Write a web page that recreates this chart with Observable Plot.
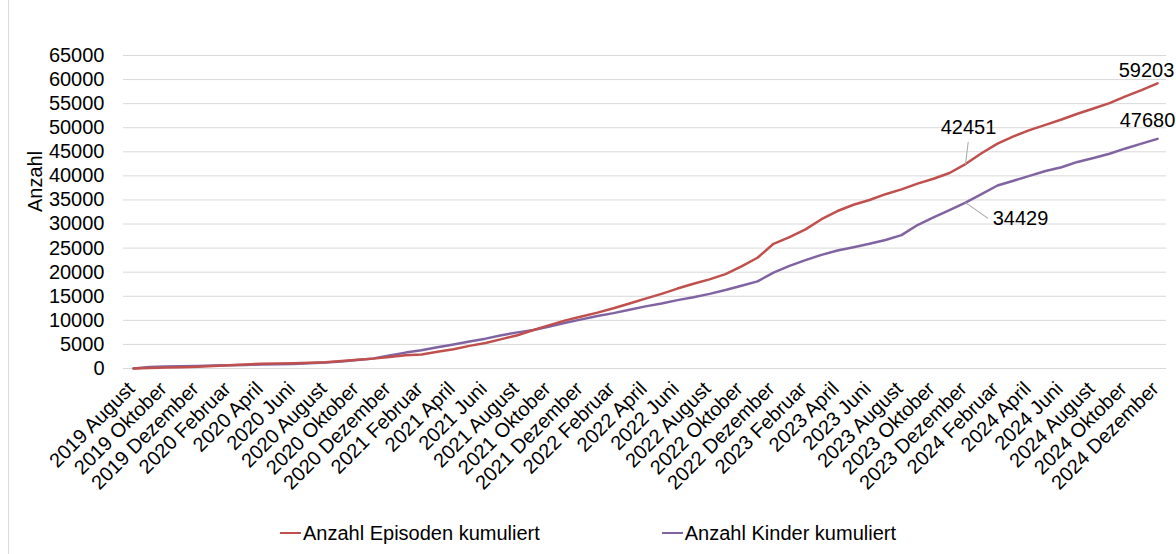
<!DOCTYPE html>
<html>
<head>
<meta charset="utf-8">
<script src="https://cdn.jsdelivr.net/npm/d3@7"></script>
<script src="https://cdn.jsdelivr.net/npm/@observablehq/plot@0.6"></script>
<style>
  html, body { margin: 0; padding: 0; background: #fff; }
  #wrap { position: relative; width: 1176px; height: 554px; overflow: hidden; font-family: "Liberation Sans", Arial, sans-serif; }
  #edge { position: absolute; left: 8px; top: 0; width: 1px; height: 554px; background: #d9d9d9; }
  #legend { position: absolute; left: 0; top: 522px; width: 1176px; display: flex; justify-content: center; gap: 122px; font-size: 20px; line-height: 22px; color: #000; }
  .item { display: flex; align-items: center; }
  .sw { display: inline-block; width: 21px; height: 2.5px; margin-right: 2px; }
</style>
</head>
<body>
<div id="wrap"><div id="edge"></div><div id="chart"></div><div id="legend"></div></div>
<script>
// Categories
const monthNames = ["Januar","Februar","März","April","Mai","Juni","Juli","August","September","Oktober","November","Dezember"];
const startYear = 2019, startMonthIndex = 7, monthCount = 65;
const months = [];
for (let i = 0; i < monthCount; i++) {
  const m = startMonthIndex + i;
  months.push((startYear + Math.floor(m / 12)) + " " + monthNames[m % 12]);
}
// Series values
const episoden = [0,100,200,280,380,500,650,850,1000,1050,1100,1200,1300,1550,1800,2050,2400,2750,2900,3500,4000,4700,5300,6100,6900,8000,9000,10000,10800,11600,12500,13500,14500,15500,16600,17600,18500,19600,21200,23000,25900,27300,28900,31000,32700,34000,35000,36200,37200,38400,39400,40600,42451,44700,46700,48200,49500,50600,51700,52900,54000,55100,56500,57800,59203];
const kinder = [0,300,400,450,500,600,700,750,850,900,950,1100,1250,1450,1750,2100,2700,3300,3800,4400,5000,5600,6200,6900,7500,8000,8700,9500,10200,10900,11500,12200,12900,13500,14200,14800,15500,16300,17200,18100,19900,21300,22500,23600,24500,25200,25900,26700,27700,29800,31400,32900,34429,36200,38000,39000,40000,41000,41800,42900,43700,44600,45700,46700,47680];
const seriesNames = ["Anzahl Episoden kumuliert", "Anzahl Kinder kumuliert"];
const seriesColors = ["#c0504d", "#8064a2"];
const yTicks = d3.range(0, 65001, 5000);
const xTicks = months.filter((d, i) => i % 2 === 0);
const yLabel = "Anzahl";
// Annotated points
const annoMonths = ["2023 Dezember", "2024 Dezember"];

const epData = months.map((m, i) => ({month: m, value: episoden[i]}));
const kiData = months.map((m, i) => ({month: m, value: kinder[i]}));
const pick = (arr, m) => arr.filter(d => d.month === m);

const leaderColor = "#a6a6a6";
const chart = Plot.plot({
  width: 1176,
  height: 512,
  marginLeft: 123,
  marginRight: 10,
  marginTop: 55,
  marginBottom: 144,
  style: { fontFamily: '"Liberation Sans", Arial, sans-serif', fontSize: "20px", color: "#000", background: "transparent" },
  x: { type: "point", domain: months, padding: 0.5 },
  y: { domain: [0, 65000] },
  marks: [
    Plot.gridY(yTicks, { stroke: "#d9d9d9", strokeOpacity: 1, strokeWidth: 1 }),
    Plot.axisY({ ticks: yTicks, tickSize: 0, tickPadding: 19, label: null, tickFormat: d => String(d) }),
    Plot.axisX({ ticks: xTicks, tickSize: 0, tickPadding: 17, tickRotate: -45, label: null, dx: -2 }),
    Plot.text([yLabel], { frameAnchor: "left", text: d => d, rotate: -90, dx: -88 }),
    Plot.line(kiData, { x: "month", y: "value", stroke: seriesColors[1], strokeWidth: 2.5 }),
    Plot.line(epData, { x: "month", y: "value", stroke: seriesColors[0], strokeWidth: 2.5 }),
    // leader lines
    Plot.vector(pick(epData, annoMonths[0]), { x: "month", y: "value", length: 22, rotate: 7, anchor: "start", r: 0, stroke: leaderColor, strokeWidth: 1 }),
    Plot.vector(pick(kiData, annoMonths[0]), { x: "month", y: "value", length: 27, rotate: 125, anchor: "start", r: 0, stroke: leaderColor, strokeWidth: 1 }),
    // labels
    Plot.text(pick(epData, annoMonths[0]), { x: "month", y: "value", text: d => String(d.value), dx: 3, dy: -36 }),
    Plot.text(pick(kiData, annoMonths[0]), { x: "month", y: "value", text: d => String(d.value), dx: 55, dy: 16 }),
    Plot.text(pick(epData, annoMonths[1]), { x: "month", y: "value", text: d => String(d.value), dx: -11, dy: -13 }),
    Plot.text(pick(kiData, annoMonths[1]), { x: "month", y: "value", text: d => String(d.value), dx: -10, dy: -18 })
  ]
});
document.getElementById("chart").appendChild(chart);

const legend = document.getElementById("legend");
seriesNames.forEach((name, i) => {
  const item = document.createElement("div");
  item.className = "item";
  const sw = document.createElement("span");
  sw.className = "sw";
  sw.style.background = seriesColors[i];
  const t = document.createElement("span");
  t.textContent = name;
  item.appendChild(sw);
  item.appendChild(t);
  legend.appendChild(item);
});
</script>
</body>
</html>
